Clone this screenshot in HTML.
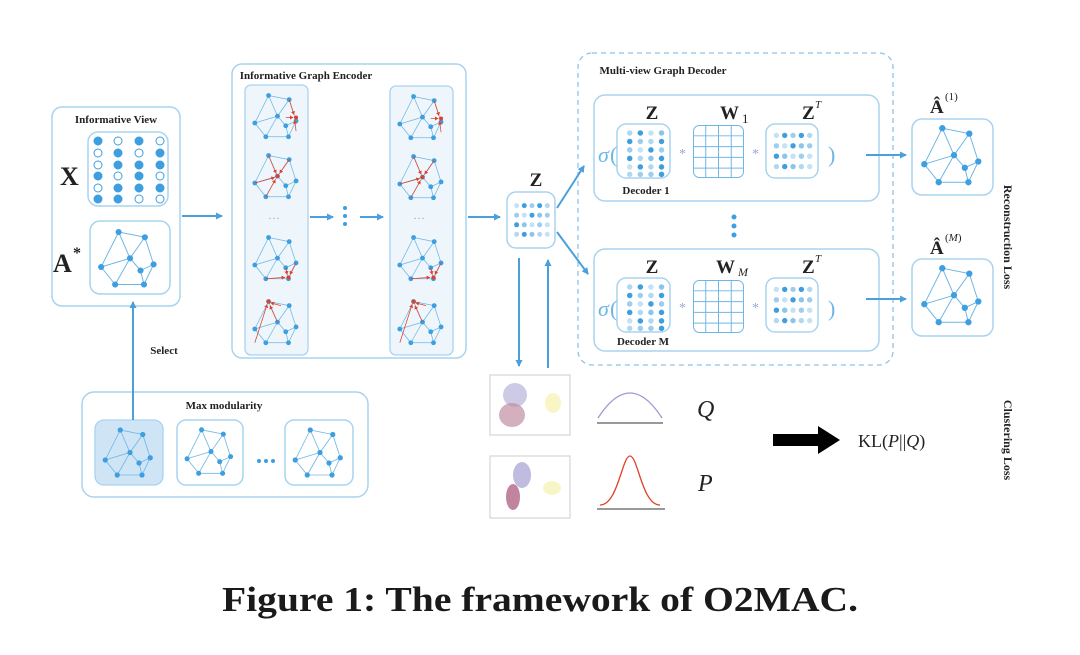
<!DOCTYPE html>
<html><head><meta charset="utf-8"><style>
html,body{margin:0;padding:0;background:#fff;}
svg{display:block;}
text{font-family:"Liberation Serif",serif;}
</style></head><body>
<svg width="1080" height="655" viewBox="0 0 1080 655" xmlns="http://www.w3.org/2000/svg">
<defs>
<marker id="ah" markerWidth="8" markerHeight="8" refX="6" refY="4" orient="auto" markerUnits="userSpaceOnUse"><path d="M0,0.5 L7,4 L0,7.5 Z" fill="#4a9fdc"/></marker>
<marker id="rh" markerWidth="6" markerHeight="6" refX="5" refY="3" orient="auto" markerUnits="userSpaceOnUse"><path d="M0,0 L5,3 L0,6 Z" fill="#e0402a"/></marker>
<symbol id="g" viewBox="0 0 80 80" overflow="visible">
<g stroke="#6db6e6" stroke-width="1.1" fill="none">
<path d="M27,8 L7,48 M27,8 L40,38 M27,8 L57,14 M57,14 L40,38 M57,14 L67,45 M7,48 L40,38 M40,38 L23,68 M40,38 L52,52 M67,45 L52,52 M67,45 L56,68 M52,52 L56,68 M23,68 L56,68 M7,48 L23,68"/>
</g>
<g fill="#3d9ee0"><circle cx="27" cy="8" r="3.5"/><circle cx="57" cy="14" r="3.5"/><circle cx="7" cy="48" r="3.5"/><circle cx="40" cy="38" r="3.5"/><circle cx="67" cy="45" r="3.5"/><circle cx="52" cy="52" r="3.5"/><circle cx="23" cy="68" r="3.5"/><circle cx="56" cy="68" r="3.5"/></g>
</symbol>
<symbol id="ra" viewBox="0 0 80 80" overflow="visible"><g stroke="#e0402a" stroke-width="1.1"><path d="M57,14 L64,36" marker-end="url(#rh)"/><path d="M52,40 L63,40" marker-end="url(#rh)"/><path d="M67,60 L65,44" marker-end="url(#rh)"/></g><circle cx="67" cy="40" r="3" fill="#e0402a"/></symbol>
<symbol id="rb" viewBox="0 0 80 80" overflow="visible"><g stroke="#e0402a" stroke-width="1.1"><path d="M7,48 L36,40" marker-end="url(#rh)"/><path d="M27,8 L38,34" marker-end="url(#rh)"/><path d="M57,14 L43,34" marker-end="url(#rh)"/><path d="M23,68 L37,43" marker-end="url(#rh)"/></g><circle cx="40" cy="38" r="3" fill="#e0402a"/></symbol>
<symbol id="rc" viewBox="0 0 80 80" overflow="visible"><g stroke="#e0402a" stroke-width="1.1"><path d="M23,68 L51,66" marker-end="url(#rh)"/><path d="M67,45 L58,62" marker-end="url(#rh)"/><path d="M52,52 L54,62" marker-end="url(#rh)"/></g><circle cx="56" cy="66" r="3" fill="#e0402a"/></symbol>
<symbol id="rd" viewBox="0 0 80 80" overflow="visible"><g stroke="#e0402a" stroke-width="1.1"><path d="M7,68 L25,12" marker-end="url(#rh)"/><path d="M45,14 L30,10" marker-end="url(#rh)"/><path d="M40,38 L29,14" marker-end="url(#rh)"/></g><circle cx="27" cy="8" r="3" fill="#e0402a"/></symbol>
<symbol id="zm" viewBox="0 0 50 50" overflow="visible">
<g fill="#3d9ee0">
<circle cx="10" cy="10" r="2.6" opacity=".3"/><circle cx="18" cy="10" r="2.6"/><circle cx="26" cy="10" r="2.6" opacity=".5"/><circle cx="34" cy="10" r="2.6"/><circle cx="42" cy="10" r="2.6" opacity=".4"/>
<circle cx="10" cy="20" r="2.6" opacity=".5"/><circle cx="18" cy="20" r="2.6" opacity=".3"/><circle cx="26" cy="20" r="2.6"/><circle cx="34" cy="20" r="2.6" opacity=".6"/><circle cx="42" cy="20" r="2.6" opacity=".5"/>
<circle cx="10" cy="30" r="2.6"/><circle cx="18" cy="30" r="2.6" opacity=".6"/><circle cx="26" cy="30" r="2.6" opacity=".3"/><circle cx="34" cy="30" r="2.6" opacity=".5"/><circle cx="42" cy="30" r="2.6" opacity=".3"/>
<circle cx="10" cy="40" r="2.6" opacity=".4"/><circle cx="18" cy="40" r="2.6"/><circle cx="26" cy="40" r="2.6" opacity=".6"/><circle cx="34" cy="40" r="2.6" opacity=".4"/><circle cx="42" cy="40" r="2.6" opacity=".3"/>
</g></symbol>
<symbol id="zc" viewBox="0 0 50 50" overflow="visible">
<g fill="#3d9ee0">
<circle cx="12" cy="8" r="2.6" opacity=".4"/><circle cx="22" cy="8" r="2.6"/><circle cx="32" cy="8" r="2.6" opacity=".3"/><circle cx="42" cy="8" r="2.6" opacity=".6"/>
<circle cx="12" cy="16" r="2.6"/><circle cx="22" cy="16" r="2.6" opacity=".5"/><circle cx="32" cy="16" r="2.6" opacity=".4"/><circle cx="42" cy="16" r="2.6"/>
<circle cx="12" cy="24" r="2.6" opacity=".5"/><circle cx="22" cy="24" r="2.6" opacity=".3"/><circle cx="32" cy="24" r="2.6"/><circle cx="42" cy="24" r="2.6" opacity=".5"/>
<circle cx="12" cy="32" r="2.6"/><circle cx="22" cy="32" r="2.6" opacity=".4"/><circle cx="32" cy="32" r="2.6" opacity=".6"/><circle cx="42" cy="32" r="2.6"/>
<circle cx="12" cy="40" r="2.6" opacity=".3"/><circle cx="22" cy="40" r="2.6"/><circle cx="32" cy="40" r="2.6" opacity=".4"/><circle cx="42" cy="40" r="2.6"/>
<circle cx="12" cy="47" r="2.6" opacity=".4"/><circle cx="22" cy="47" r="2.6" opacity=".5"/><circle cx="32" cy="47" r="2.6" opacity=".5"/><circle cx="42" cy="47" r="2.6"/>
</g></symbol>
<symbol id="grid" viewBox="0 0 52 54"><rect x="0.5" y="0.5" width="51" height="53" rx="6" fill="none" stroke="#6db6e6"/><path d="M13,0 V54 M26,0 V54 M39,0 V54 M0,11 H52 M0,22 H52 M0,33 H52 M0,44 H52" stroke="#6db6e6" stroke-width="1"/></symbol>
</defs>

<g fill="none" stroke="#a9d3f0" stroke-width="1.5">
<rect x="52" y="107" width="128" height="199" rx="10"/>
<rect x="88" y="132" width="80" height="74" rx="10"/>
<rect x="90" y="221" width="80" height="73" rx="10"/>
<rect x="232" y="64" width="234" height="294" rx="10"/>
<rect x="82" y="392" width="286" height="105" rx="12"/>
<rect x="177" y="420" width="66" height="65" rx="9"/>
<rect x="285" y="420" width="68" height="65" rx="9"/>
<rect x="507" y="192" width="48" height="56" rx="9"/>
<rect x="594" y="95" width="285" height="106" rx="11"/>
<rect x="594" y="249" width="285" height="102" rx="11"/>
<rect x="617" y="124" width="53" height="54" rx="9"/>
<rect x="766" y="124" width="52" height="54" rx="9"/>
<rect x="617" y="278" width="53" height="54" rx="9"/>
<rect x="766" y="278" width="52" height="54" rx="9"/>
<rect x="912" y="119" width="81" height="76" rx="10"/>
<rect x="912" y="259" width="81" height="77" rx="10"/>
</g>
<rect x="245" y="85" width="63" height="270" rx="6" fill="#eef6fc" stroke="#a9d3f0" stroke-width="1.3"/>
<rect x="390" y="86" width="63" height="269" rx="6" fill="#eef6fc" stroke="#a9d3f0" stroke-width="1.3"/>
<rect x="95" y="420" width="68" height="65" rx="9" fill="#cfe5f6" stroke="#a9d3f0" stroke-width="1.3"/>
<rect x="578" y="53" width="315" height="312" rx="14" fill="none" stroke="#8cc4ea" stroke-width="1.3" stroke-dasharray="5,4"/>

<g stroke="#3d9ee0" stroke-width="1" fill="#3d9ee0">
<circle cx="98" cy="141" r="4"/><circle cx="118" cy="141" r="4" fill="#fff"/><circle cx="139" cy="141" r="4"/><circle cx="160" cy="141" r="4" fill="#fff"/>
<circle cx="98" cy="153" r="4" fill="#fff"/><circle cx="118" cy="153" r="4"/><circle cx="139" cy="153" r="4" fill="#fff"/><circle cx="160" cy="153" r="4"/>
<circle cx="98" cy="165" r="4" fill="#fff"/><circle cx="118" cy="165" r="4"/><circle cx="139" cy="165" r="4"/><circle cx="160" cy="165" r="4"/>
<circle cx="98" cy="176" r="4"/><circle cx="118" cy="176" r="4" fill="#fff"/><circle cx="139" cy="176" r="4"/><circle cx="160" cy="176" r="4" fill="#fff"/>
<circle cx="98" cy="188" r="4" fill="#fff"/><circle cx="118" cy="188" r="4"/><circle cx="139" cy="188" r="4"/><circle cx="160" cy="188" r="4"/>
<circle cx="98" cy="199" r="4"/><circle cx="118" cy="199" r="4"/><circle cx="139" cy="199" r="4" fill="#fff"/><circle cx="160" cy="199" r="4" fill="#fff"/>
</g>

<use href="#g" x="95" y="225" width="70" height="70"/>
<use href="#g" x="250" y="90" width="55" height="55"/><use href="#ra" x="250" y="90" width="55" height="55"/>
<use href="#g" x="250" y="150" width="55" height="55"/><use href="#rb" x="250" y="150" width="55" height="55"/>
<use href="#g" x="250" y="232" width="55" height="55"/><use href="#rc" x="250" y="232" width="55" height="55"/>
<use href="#g" x="250" y="296" width="55" height="55"/><use href="#rd" x="250" y="296" width="55" height="55"/>
<use href="#g" x="395" y="91" width="55" height="55"/><use href="#ra" x="395" y="91" width="55" height="55"/>
<use href="#g" x="395" y="151" width="55" height="55"/><use href="#rb" x="395" y="151" width="55" height="55"/>
<use href="#g" x="395" y="232" width="55" height="55"/><use href="#rc" x="395" y="232" width="55" height="55"/>
<use href="#g" x="395" y="296" width="55" height="55"/><use href="#rd" x="395" y="296" width="55" height="55"/>
<use href="#g" x="100" y="424" width="60" height="60"/>
<use href="#g" x="182" y="424" width="58" height="58"/>
<use href="#g" x="290" y="424" width="60" height="60"/>
<use href="#g" x="918" y="121" width="72" height="72"/>
<use href="#g" x="918" y="261" width="72" height="72"/>

<g fill="#6db6e6" font-size="12"><text x="268" y="222">···</text><text x="413" y="222">···</text></g>
<g fill="#3d9ee0"><circle cx="345" cy="208" r="2"/><circle cx="345" cy="216" r="2"/><circle cx="345" cy="224" r="2"/>
<circle cx="734" cy="217" r="2.5"/><circle cx="734" cy="226" r="2.5"/><circle cx="734" cy="235" r="2.5"/>
<circle cx="259" cy="461" r="2"/><circle cx="266" cy="461" r="2"/><circle cx="273" cy="461" r="2"/></g>

<use href="#zm" x="507" y="194" width="48" height="52"/>
<use href="#zc" x="617" y="124" width="53" height="54"/>
<use href="#zc" x="617" y="278" width="53" height="54"/>
<use href="#zm" x="766" y="124" width="52" height="54"/>
<use href="#zm" x="766" y="278" width="52" height="54"/>
<use href="#grid" x="693" y="125" width="51" height="53"/>
<use href="#grid" x="693" y="280" width="51" height="53"/>

<g stroke="#4a9fdc" stroke-width="2" fill="none" marker-end="url(#ah)">
<path d="M182,216 H222"/>
<path d="M310,217 H333"/>
<path d="M360,217 H383"/>
<path d="M468,217 H500"/>
<path d="M557,208 L584,166"/>
<path d="M557,232 L588,274"/>
<path d="M519,258 V366"/>
<path d="M548,368 V260"/>
<path d="M133,420 V302"/>
<path d="M866,155 H906"/>
<path d="M866,299 H906"/>
</g>
<path d="M773,434 H818 V426 L840,440 L818,454 V446 H773 Z" fill="#000"/>

<g font-weight="bold" fill="#222">
<text x="116" y="123" font-size="11" text-anchor="middle">Informative View</text>
<text x="306" y="79" font-size="11" text-anchor="middle">Informative Graph Encoder</text>
<text x="663" y="74" font-size="11" text-anchor="middle">Multi-view Graph Decoder</text>
<text x="224" y="409" font-size="11" text-anchor="middle">Max modularity</text>
<text x="164" y="354" font-size="11" text-anchor="middle">Select</text>
<text x="646" y="194" font-size="11" text-anchor="middle">Decoder 1</text>
<text x="643" y="345" font-size="11" text-anchor="middle">Decoder M</text>
<text x="60" y="185" font-size="26">X</text>
<text x="53" y="272" font-size="26">A</text><text x="73" y="258" font-size="16">*</text>
<text x="536" y="186" font-size="19" text-anchor="middle">Z</text>
<text x="652" y="119" font-size="19" text-anchor="middle">Z</text>
<text x="652" y="273" font-size="19" text-anchor="middle">Z</text>
<text x="720" y="119" font-size="19">W</text><text x="742" y="123" font-size="13" font-weight="normal">1</text>
<text x="716" y="273" font-size="19">W</text><text x="738" y="276" font-size="12" font-weight="normal" font-style="italic">M</text>
<text x="802" y="119" font-size="19">Z</text><text x="815" y="108" font-size="11" font-weight="normal" font-style="italic">T</text>
<text x="802" y="273" font-size="19">Z</text><text x="815" y="262" font-size="11" font-weight="normal" font-style="italic">T</text>
<text x="930" y="113" font-size="19">Â</text><text x="945" y="100" font-size="11" font-weight="normal">(1)</text>
<text x="930" y="254" font-size="19">Â</text><text x="945" y="241" font-size="11" font-weight="normal">(<tspan font-style="italic">M</tspan>)</text>
<text transform="translate(1004,237) rotate(90)" font-size="12" text-anchor="middle">Reconstruction Loss</text>
<text transform="translate(1004,440) rotate(90)" font-size="12" text-anchor="middle">Clustering Loss</text>
</g>
<g fill="#6db6e6" font-size="22"><text x="598" y="162" font-style="italic">σ</text><text x="610" y="162">(</text><text x="598" y="316" font-style="italic">σ</text><text x="610" y="316">(</text>
<text x="828" y="162">)</text><text x="828" y="316">)</text></g>
<g fill="#9aa8d8" font-size="14"><text x="679" y="158">*</text><text x="752" y="158">*</text><text x="679" y="312">*</text><text x="752" y="312">*</text></g>

<g stroke="#ccc" fill="none"><rect x="490" y="375" width="80" height="60"/><rect x="490" y="456" width="80" height="62"/></g>
<g opacity=".55">
<ellipse cx="515" cy="395" rx="12" ry="12" fill="#a5a0d0"/><ellipse cx="512" cy="415" rx="13" ry="12" fill="#8e3058" opacity=".7"/><ellipse cx="553" cy="403" rx="8" ry="10" fill="#f4ef9a"/>
<ellipse cx="522" cy="475" rx="9" ry="13" fill="#8c86c8"/><ellipse cx="513" cy="497" rx="7" ry="13" fill="#8e2050"/><ellipse cx="552" cy="488" rx="9" ry="7" fill="#f4ef9a"/>
</g>
<path d="M598,418 Q630,368 662,418" fill="none" stroke="#9a9ad8" stroke-width="1.3"/>
<path d="M597,423 H663" stroke="#999" stroke-width="2"/>
<path d="M600,505 C618,505 622,456 630,456 C638,456 642,505 660,505" fill="none" stroke="#e0402a" stroke-width="1.3"/>
<path d="M597,509 H665" stroke="#999" stroke-width="2"/>
<g font-size="24" font-style="italic" fill="#222"><text x="697" y="417">Q</text><text x="698" y="491">P</text></g>
<text x="858" y="447" font-size="18" fill="#222">KL(<tspan font-style="italic">P</tspan>||<tspan font-style="italic">Q</tspan>)</text>

<text x="222" y="611" font-size="35" font-weight="bold" textLength="636" lengthAdjust="spacingAndGlyphs" fill="#1a1a1a">Figure 1: The framework of O2MAC.</text>
</svg>
</body></html>
